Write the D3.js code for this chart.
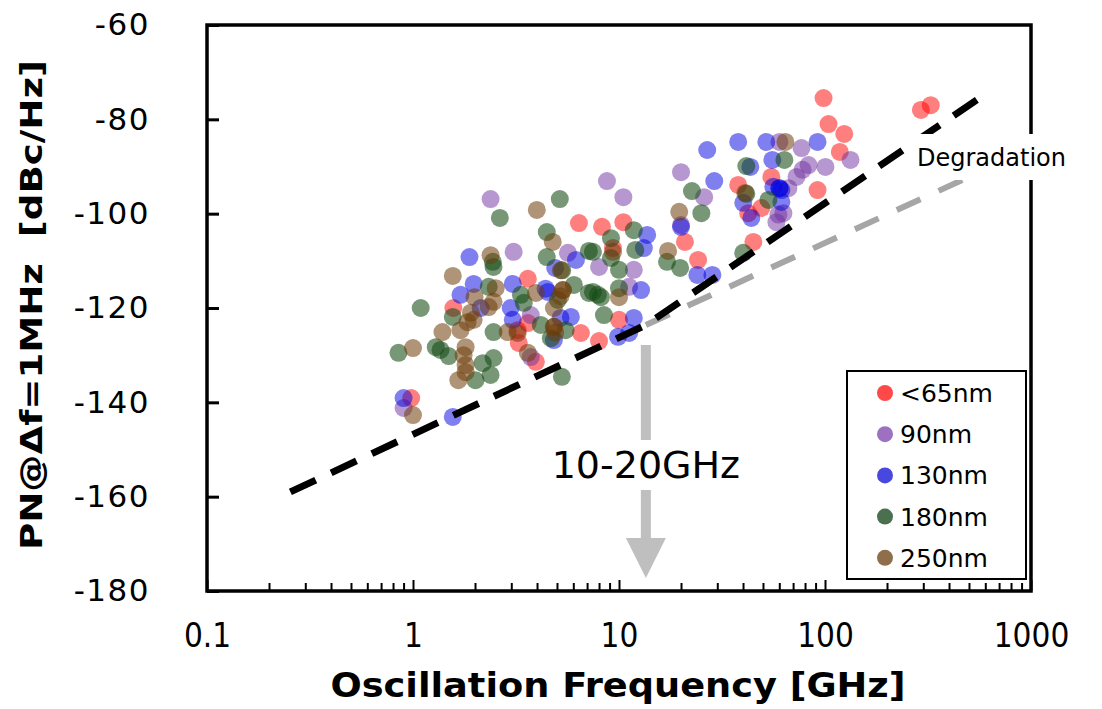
<!DOCTYPE html>
<html>
<head>
<meta charset="utf-8">
<script src="https://cdn.jsdelivr.net/npm/d3@7"></script>
<style>
  body { margin: 0; background: #fff; }
  svg { display: block; }
</style>
</head>
<body>
<div class="chart"></div>
<script>
// [frequency GHz, phase noise dBc/Hz]
const nm65 = [[6.39,-102.0],[8.27,-102.8],[10.5,-101.8],[9.35,-107.3],[3.61,-113.8],[1.57,-120.0],
  [3.61,-123.2],[3.22,-124.7],[3.26,-127.4],[3.95,-131.4],[6.53,-125.3],[8.0,-127.0],[10.0,-122.5],
  [0.98,-139.1],[20.9,-106.0],[24.2,-109.8],[37.9,-93.9],[42.4,-99.9],[49.1,-98.8],[54.9,-92.2],
  [44.9,-106.0],[92.0,-95.0],[98.4,-75.5],[104,-81.0],[124,-83.1],[118,-86.9],[292,-78.0],[326,-77.0]];
const nm90 = [[2.38,-96.9],[3.08,-108.1],[5.65,-108.3],[8.0,-111.3],[3.73,-121.5],[3.73,-130.4],
  [0.90,-141.2],[8.74,-93.1],[10.5,-96.5],[20.0,-91.2],[25.9,-96.5],[20.0,-102.4],[11.8,-111.9],
  [11.2,-115.5],[58.1,-101.8],[62.8,-99.9],[60.1,-84.8],[76.9,-86.1],[83.2,-89.7],[100.5,-90.1],
  [77.8,-90.7],[72.7,-92.2],[66.4,-94.6],[133,-88.6],[59.4,-100.2]];
const nm130 = [[1.88,-109.2],[1.97,-114.9],[1.70,-117.2],[3.05,-114.9],[4.51,-116.6],[6.18,-109.8],
  [2.13,-120.0],[2.98,-120.0],[3.05,-122.5],[5.84,-121.9],[4.83,-126.8],[0.90,-139.1],[1.56,-143.1],
  [29.0,-93.1],[20.0,-102.8],[24.0,-113.0],[28.4,-113.0],[13.7,-104.5],[13.2,-107.3],[12.8,-116.2],
  [11.8,-122.1],[11.2,-125.3],[9.89,-126.1],[40.1,-97.7],[43.9,-100.9],[61.4,-95.0],[60.1,-94.6],
  [60.1,-94.6],[56.1,-94.3],[37.9,-84.8],[51.9,-84.8],[92.0,-84.8],[26.8,-86.5],[55.5,-88.6],
  [43.4,-90.1],[61.4,-97.5],[5.2,-122.1],[4.4,-115.9],[4.9,-111.5]];
const nm180 = [[2.64,-100.9],[5.16,-96.9],[4.46,-103.9],[2.44,-110.2],[2.46,-111.3],[4.46,-109.2],
  [7.14,-107.9],[2.33,-115.5],[3.34,-117.2],[3.45,-118.9],[6.04,-115.1],[7.14,-116.8],[7.9,-117.2],
  [1.09,-120.0],[1.56,-121.9],[2.46,-125.1],[4.67,-126.4],[0.85,-129.5],[1.29,-128.3],[1.36,-128.9],
  [1.49,-130.2],[2.46,-130.6],[2.18,-131.7],[2.01,-135.3],[2.38,-134.2],[5.28,-134.6],[9.14,-105.2],
  [11.8,-103.5],[12.0,-107.7],[7.47,-108.1],[9.14,-109.4],[10.0,-111.9],[10.0,-115.8],[8.17,-117.7],
  [7.47,-116.6],[8.45,-121.5],[22.6,-95.2],[25.1,-99.9],[17.1,-110.2],[19.8,-111.5],[40.1,-108.3],
  [53.1,-97.1],[41.5,-89.9],[63.5,-88.6],[41.5,-95.8],[5.05,-118.3],[4.17,-123.6],[5.5,-124.7],
  [5.3,-112.0]];
const nm250 = [[3.99,-99.2],[4.77,-106.0],[2.38,-108.8],[1.56,-113.2],[2.52,-115.8],[1.99,-117.7],
  [2.46,-118.7],[2.33,-119.8],[3.95,-116.8],[5.34,-116.2],[5.34,-116.2],[5.2,-117.5],[4.83,-120.0],
  [1.84,-123.0],[1.97,-122.5],[4.83,-124.0],[4.83,-124.0],[4.9,-125.2],[1.39,-125.1],[3.22,-125.3],
  [2.88,-125.1],[1.70,-124.7],[1.0,-128.5],[1.80,-128.3],[1.76,-130.0],[3.61,-129.5],[1.80,-132.1],
  [1.80,-133.6],[1.66,-135.3],[1.0,-142.7],[10.0,-117.7],[9.35,-108.1],[19.6,-99.6],[17.3,-107.9],
  [41.0,-95.6],[64.2,-84.8],[5.22,-112.0],[1.91,-121.0]];

const seriesNames = ['<65nm', '90nm', '130nm', '180nm', '250nm'];
const seriesData = [nm65, nm90, nm130, nm180, nm250];
const fillColors = ['rgba(255,0,0,0.5)', 'rgba(112,48,160,0.5)', 'rgba(0,0,224,0.5)',
  'rgba(20,75,20,0.58)', 'rgba(110,60,10,0.55)'];
const legendColors = ['#ff4848', '#9d70c2', '#4848e0', '#4a7050', '#8f6e4c'];

// limit lines: 20 dB/dec then 30 dB/dec after the knee, gray keeps 20 dB/dec
const limitLine = [[0.254, -159.0], [13.5, -123.6], [631, -74.0]];
const degradeLine = [[13.5, -123.6], [631, -90.2]];
const xTicks = [0.1, 1, 10, 100, 1000];
const yTicks = [-180, -160, -140, -120, -100, -80, -60];

const W = 1102, H = 709;
const plotL = 207, plotT = 25, plotR = 1031, plotB = 591;

const svg = d3.select('.chart').append('svg').attr('width', W).attr('height', H);

const x = d3.scaleLog().domain([0.1, 1000]).range([plotL, plotR]);
const y = d3.scaleLinear().domain([-180, -60]).range([plotB, plotT]);

// points
seriesData.forEach((pts, i) => {
  svg.append('g').selectAll('circle').data(pts).join('circle')
    .attr('cx', d => x(d[0]))
    .attr('cy', d => y(d[1]))
    .attr('r', 9)
    .attr('fill', fillColors[i]);
});

// dashed lines
const line = d3.line().x(d => x(d[0])).y(d => y(d[1]));
svg.append('path').attr('d', line(degradeLine))
  .attr('fill', 'none').attr('stroke', '#a6a6a6').attr('stroke-width', 6)
  .attr('stroke-dasharray', '26,20');
svg.append('path').attr('d', line(limitLine))
  .attr('fill', 'none').attr('stroke', '#000').attr('stroke-width', 7)
  .attr('stroke-dasharray', '28,17');

// arrow
const ax = x(limitLine[1][0]);
const arrow = svg.append('g').attr('fill', '#bfbfbf').attr('stroke', 'none');
arrow.append('rect').attr('x', ax - 5).attr('y', 345).attr('width', 10).attr('height', 95);
arrow.append('rect').attr('x', ax - 5).attr('y', 490).attr('width', 10).attr('height', 55);
arrow.append('path').attr('d', `M${ax - 20},538 L${ax + 20},538 L${ax},578 Z`);
svg.append('text').attr('x', ax).attr('y', 478)
  .attr('text-anchor', 'middle')
  .style('font-family', 'DejaVu Sans').style('font-size', '38px')
  .text('10-20GHz');

// axes
const yAxis = d3.axisLeft(y).tickValues(yTicks).tickSize(-12).tickPadding(57)
  .tickFormat(d => String(d));
const gy = svg.append('g').attr('transform', `translate(${plotL},0)`).call(yAxis);
gy.select('.domain').remove();
gy.selectAll('.tick line').attr('stroke', '#000').attr('stroke-width', 3);
gy.selectAll('.tick text').attr('text-anchor', 'end')
  .style('font-family', 'DejaVu Sans').style('font-size', '31px')
  .style('letter-spacing', '1.5px').attr('fill', '#000');

const minorTicks = [];
for (let e = -1; e < 3; e++) {
  for (let k = 2; k <= 9; k++) minorTicks.push(k * Math.pow(10, e));
}
const xMinor = d3.axisBottom(x).tickValues(minorTicks).tickSize(-8).tickFormat('');
const gxm = svg.append('g').attr('transform', `translate(0,${plotB})`).call(xMinor);
gxm.select('.domain').remove();
gxm.selectAll('.tick line').attr('stroke', '#000').attr('stroke-width', 2);

const xAxis = d3.axisBottom(x).tickValues(xTicks).tickSize(-11).tickPadding(33)
  .tickFormat(d => String(d));
const gx = svg.append('g').attr('transform', `translate(0,${plotB})`).call(xAxis);
gx.select('.domain').remove();
gx.selectAll('.tick line').attr('stroke', '#000').attr('stroke-width', 2);
gx.selectAll('.tick text')
  .style('font-family', 'DejaVu Sans Condensed').style('font-size', '33px').attr('fill', '#000');

// frame
svg.append('rect').attr('x', plotL).attr('y', plotT)
  .attr('width', plotR - plotL).attr('height', plotB - plotT)
  .attr('fill', 'none').attr('stroke', '#000').attr('stroke-width', 3.5);

// degradation label
svg.append('rect').attr('x', 912).attr('y', 134).attr('width', 160).attr('height', 46).attr('fill', '#fff');
svg.append('text').attr('x', 917).attr('y', 166)
  .style('font-family', 'DejaVu Sans').style('font-size', '24px')
  .text('Degradation');

// legend
const lg = svg.append('g');
lg.append('rect').attr('x', 847).attr('y', 371).attr('width', 179).attr('height', 208)
  .attr('fill', '#fff').attr('stroke', '#000').attr('stroke-width', 2);
seriesNames.forEach((name, i) => {
  const cy = 393 + i * 41.2;
  lg.append('circle').attr('cx', 885).attr('cy', cy).attr('r', 8).attr('fill', legendColors[i]);
  lg.append('text').attr('x', 900).attr('y', cy).attr('dy', '0.36em')
    .style('font-family', 'DejaVu Sans').style('font-size', '25px')
    .text(name);
});

// axis titles
svg.append('text').attr('x', 618).attr('y', 697).attr('text-anchor', 'middle')
  .attr('textLength', 575).attr('lengthAdjust', 'spacingAndGlyphs')
  .style('font-family', 'DejaVu Sans Condensed').style('font-weight', 'bold').style('font-size', '34px')
  .text('Oscillation Frequency [GHz]');
svg.append('text')
  .attr('transform', 'translate(42,305) rotate(-90)')
  .attr('text-anchor', 'middle')
  .attr('textLength', 490).attr('lengthAdjust', 'spacingAndGlyphs')
  .style('font-family', 'DejaVu Sans').style('font-weight', 'bold').style('font-size', '30px')
  .style('white-space', 'pre')
  .text('PN@\u0394f=1MHz  [dBc/Hz]');
</script>
</body>
</html>
